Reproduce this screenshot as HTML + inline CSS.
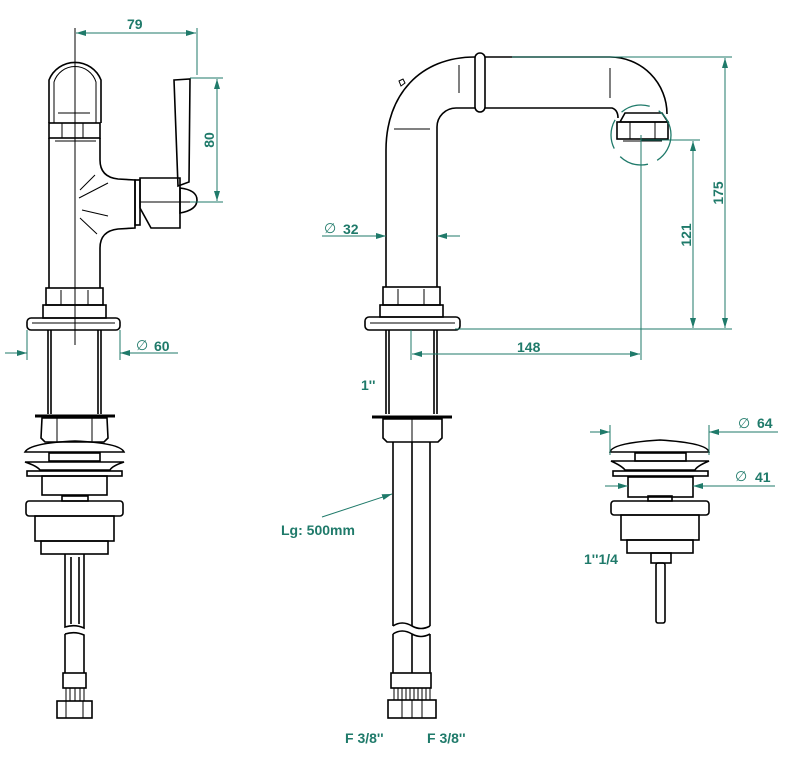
<!DOCTYPE html>
<html><head><meta charset="utf-8"><style>
html,body{margin:0;padding:0;background:#fff}
svg{display:block}
text{font-family:"Liberation Sans",sans-serif;font-weight:bold;fill:#1f7a6a;font-size:14px}
.k{fill:none;stroke:#000;stroke-width:1.6}
.t{fill:none;stroke:#000;stroke-width:1}
.g{fill:none;stroke:#1f7a6a;stroke-width:1}
.a{fill:#1f7a6a}
</style></head><body>
<svg width="792" height="761" viewBox="0 0 792 761" xmlns="http://www.w3.org/2000/svg">
<defs>
<marker id="ar" viewBox="0 0 10 6" refX="10" refY="3" markerWidth="10" markerHeight="6" orient="auto-start-reverse" markerUnits="userSpaceOnUse"><path d="M0,0L10,3L0,6z" fill="#1f7a6a"/></marker>
</defs>

<!-- ===== LEFT VIEW ===== -->
<line class="t" x1="75" y1="28" x2="75" y2="345"/>
<path class="k" d="M49,123 L49,80 A28,28 0 0 1 101,80 L101,123"/>
<path class="t" d="M54,123 L54,82 A22,22 0 0 1 96,82 L96,123"/>
<line class="t" x1="58" y1="113" x2="90" y2="113"/>
<rect class="k" x="49" y="123" width="51" height="15"/>
<line class="t" x1="62" y1="123" x2="62" y2="138"/><line class="t" x1="83" y1="123" x2="83" y2="138"/>
<line class="t" x1="55" y1="141" x2="96" y2="141"/>
<path class="k" d="M49,138 L49,288 M100,138 L100,160 Q100,177 118,179 L135,180 L135,228 L118,229 Q100,231 100,248 L100,288"/>
<path class="t" d="M80,190 L95,175 M79,198 L108,183 M82,210 L108,216 M80,218 L97,234"/>
<rect class="k" x="135" y="180" width="5" height="45"/>
<path class="k" d="M140,178 L180,178 L180,228 L151,228 L140,208 Z"/>
<path class="k" d="M174,80 L190,79 L189,182 L178,186 Z"/>
<path class="k" d="M180,188 Q197,190 197,200 Q197,210 180,213 Z"/>
<line class="t" x1="140" y1="202" x2="195" y2="202"/>
<rect class="k" x="46" y="288" width="57" height="17"/>
<line class="t" x1="61" y1="290" x2="61" y2="305"/><line class="t" x1="88" y1="290" x2="88" y2="305"/>
<rect class="k" x="43" y="305" width="63" height="13"/>
<rect class="k" x="27" y="318" width="93" height="12" rx="4"/>
<line class="t" x1="32" y1="323" x2="115" y2="323"/>
<path class="k" d="M48,330 L48,414 M51,330 L51,414 M98,330 L98,414 M101,330 L101,414"/>
<line x1="35" y1="416" x2="115" y2="416" stroke="#000" stroke-width="3"/>
<path class="k" d="M42,418 L107,418 L108,438 L104,442 L45,442 L41,438 Z"/>
<line class="t" x1="57" y1="418" x2="57" y2="442"/><line class="t" x1="92" y1="418" x2="92" y2="442"/>
<path class="k" d="M25,452 Q30,443 75,441 Q120,443 124,452 Z"/>
<rect class="k" x="49" y="453" width="51" height="8"/>
<path class="k" d="M25,462 L124,462 Q112,466 110,470 L40,470 Q37,466 25,462 Z"/>
<rect class="k" x="27" y="471" width="95" height="5"/>
<rect class="k" x="42" y="476" width="65" height="19"/>
<rect class="k" x="62" y="496" width="26" height="5"/>
<rect class="k" x="26" y="501" width="97" height="15" rx="3"/>
<rect class="k" x="35" y="516" width="79" height="25"/>
<rect class="k" x="41" y="541" width="67" height="13"/>
<path class="k" d="M65,554 L65,627 Q75,624 84,628 L84,554 M71,557 L71,624 M79,557 L79,624 M65,634 Q75,631 84,635 L84,673"/>
<line class="k" x1="65" y1="634" x2="65" y2="673"/>
<rect class="k" x="63" y="673" width="23" height="15"/>
<path class="t" d="M66,688 L66,701 M70,688 L70,701 M75,688 L75,701 M80,688 L80,701 M84,688 L84,701"/>
<rect class="k" x="57" y="701" width="35" height="17"/>
<line class="t" x1="66" y1="701" x2="66" y2="718"/><line class="t" x1="83" y1="701" x2="83" y2="718"/>
<line class="g" x1="197" y1="28" x2="197" y2="75"/>
<line class="g" x1="76" y1="33" x2="196" y2="33" marker-start="url(#ar)" marker-end="url(#ar)"/>
<text x="127" y="29">79</text>
<line class="g" x1="190" y1="78" x2="223" y2="78"/><line class="g" x1="190" y1="202" x2="223" y2="202"/>
<line class="g" x1="217" y1="79" x2="217" y2="201" marker-start="url(#ar)" marker-end="url(#ar)"/>
<text transform="translate(214,140) rotate(-90)" text-anchor="middle">80</text>
<line class="g" x1="27" y1="330" x2="27" y2="360"/><line class="g" x1="120" y1="330" x2="120" y2="360"/>
<line class="g" x1="5" y1="353" x2="27" y2="353" marker-end="url(#ar)"/>
<line class="g" x1="178" y1="353" x2="120" y2="353" marker-end="url(#ar)"/>
<text x="136" y="350" style="font-weight:normal">∅</text><text x="154" y="351">60</text>

<!-- ===== MIDDLE VIEW ===== -->
<path class="k" d="M386,287 L386,150 C386,95 420,57 475,57 M485,57 L610,57 A57,57 0 0 1 667,114"/>
<path class="k" d="M437,287 L437,127 A19,19 0 0 1 456,108 L475,108 M485,108 L612,108 Q618,110 618,118"/>
<rect class="k" x="475" y="53" width="10" height="59" rx="5"/>
<path class="t" d="M399,81 L403,79 L405,83 L401,86 Z"/>
<line class="t" x1="459" y1="65" x2="459" y2="93"/>
<line class="t" x1="394" y1="129" x2="430" y2="129"/>
<line class="t" x1="610" y1="68" x2="610" y2="98"/>
<path class="k" d="M620,122 L625,113 L662,113 L668,122 Z"/>
<rect class="k" x="617" y="122" width="51" height="17"/>
<line class="t" x1="630" y1="122" x2="630" y2="139"/><line class="t" x1="655" y1="122" x2="655" y2="139"/>
<line class="t" x1="623" y1="141" x2="662" y2="141"/>
<circle cx="641" cy="135" r="30" fill="none" stroke="#1f7a6a" stroke-width="1.3" stroke-dasharray="30 10"/>
<rect class="k" x="383" y="287" width="57" height="18"/>
<line class="t" x1="398" y1="289" x2="398" y2="305"/><line class="t" x1="424" y1="289" x2="424" y2="305"/>
<rect class="k" x="380" y="305" width="63" height="12"/>
<rect class="k" x="365" y="317" width="95" height="13" rx="4"/>
<line class="t" x1="370" y1="323" x2="455" y2="323"/>
<path class="k" d="M386,330 L386,414 M389,330 L389,414 M434,330 L434,414 M437,330 L437,414"/>
<line x1="372" y1="417" x2="452" y2="417" stroke="#000" stroke-width="3"/>
<path class="k" d="M383,419 L442,419 L442,438 L438,442 L387,442 L383,438 Z"/>
<line class="t" x1="412" y1="419" x2="412" y2="442"/>
<path class="k" d="M393,442 L393,626 M412,442 L412,626 M430,442 L430,626 M393,626 Q402,620 412,626 Q421,631 430,626 M393,634 Q402,628 412,634 Q421,639 430,634 M393,634 L393,673 M412,634 L412,673 M430,634 L430,673"/>
<rect class="k" x="391" y="673" width="40" height="15"/>
<path class="t" d="M394,688 L394,700 M398,688 L398,700 M402,688 L402,700 M406,688 L406,700 M410,688 L410,700 M414,688 L414,700 M418,688 L418,700 M422,688 L422,700 M426,688 L426,700 M430,688 L430,700"/>
<rect class="k" x="388" y="700" width="48" height="18"/>
<line class="t" x1="402" y1="700" x2="402" y2="718"/><line class="t" x1="412" y1="700" x2="412" y2="718"/><line class="t" x1="422" y1="700" x2="422" y2="718"/>
<line class="g" x1="322" y1="236" x2="386" y2="236" marker-end="url(#ar)"/>
<line class="g" x1="460" y1="236" x2="437" y2="236" marker-end="url(#ar)"/>
<text x="324" y="233" style="font-weight:normal">∅</text><text x="343" y="234">32</text>
<line class="g" x1="512" y1="57" x2="732" y2="57"/>
<line class="g" x1="455" y1="329" x2="732" y2="329"/>
<line class="g" x1="641" y1="140" x2="700" y2="140"/>
<line class="g" x1="725" y1="58" x2="725" y2="328" marker-start="url(#ar)" marker-end="url(#ar)"/>
<line class="g" x1="693" y1="141" x2="693" y2="328" marker-start="url(#ar)" marker-end="url(#ar)"/>
<text transform="translate(723,193) rotate(-90)" text-anchor="middle">175</text>
<text transform="translate(691,235) rotate(-90)" text-anchor="middle">121</text>
<line class="g" x1="641" y1="135" x2="641" y2="360"/>
<line class="g" x1="411" y1="330" x2="411" y2="360"/>
<line class="g" x1="412" y1="354" x2="640" y2="354" marker-start="url(#ar)" marker-end="url(#ar)"/>
<text x="517" y="352">148</text>
<text x="361" y="390">1''</text>
<line class="g" x1="322" y1="517" x2="392" y2="494" marker-end="url(#ar)"/>
<text x="281" y="535">Lg: 500mm</text>
<text x="345" y="743">F 3/8''</text>
<text x="427" y="743">F 3/8''</text>

<!-- ===== RIGHT VIEW ===== -->
<path class="k" d="M610,452 Q612,443 660,440 Q707,443 709,452 Z"/>
<rect class="k" x="635" y="453" width="51" height="8"/>
<path class="k" d="M611,461 L709,461 Q697,466 695,470 L625,470 Q622,466 611,461 Z"/>
<rect class="k" x="613" y="471" width="95" height="5"/>
<rect class="k" x="628" y="477" width="65" height="20"/>
<rect class="k" x="648" y="496" width="24" height="5"/>
<rect class="k" x="611" y="501" width="98" height="14" rx="3"/>
<rect class="k" x="621" y="515" width="78" height="25"/>
<rect class="k" x="627" y="540" width="66" height="13"/>
<rect class="k" x="651" y="553" width="20" height="10"/>
<rect class="k" x="656" y="563" width="9" height="60" rx="2"/>
<line class="g" x1="610" y1="425" x2="610" y2="455"/><line class="g" x1="709" y1="425" x2="709" y2="455"/>
<line class="g" x1="590" y1="432" x2="610" y2="432" marker-end="url(#ar)"/>
<line class="g" x1="778" y1="432" x2="709" y2="432" marker-end="url(#ar)"/>
<text x="738" y="428" style="font-weight:normal">∅</text><text x="757" y="428">64</text>
<line class="g" x1="605" y1="486" x2="628" y2="486" marker-end="url(#ar)"/>
<line class="g" x1="775" y1="486" x2="693" y2="486" marker-end="url(#ar)"/>
<text x="735" y="481" style="font-weight:normal">∅</text><text x="755" y="482">41</text>
<text x="584" y="564">1''1/4</text>
</svg>
</body></html>
